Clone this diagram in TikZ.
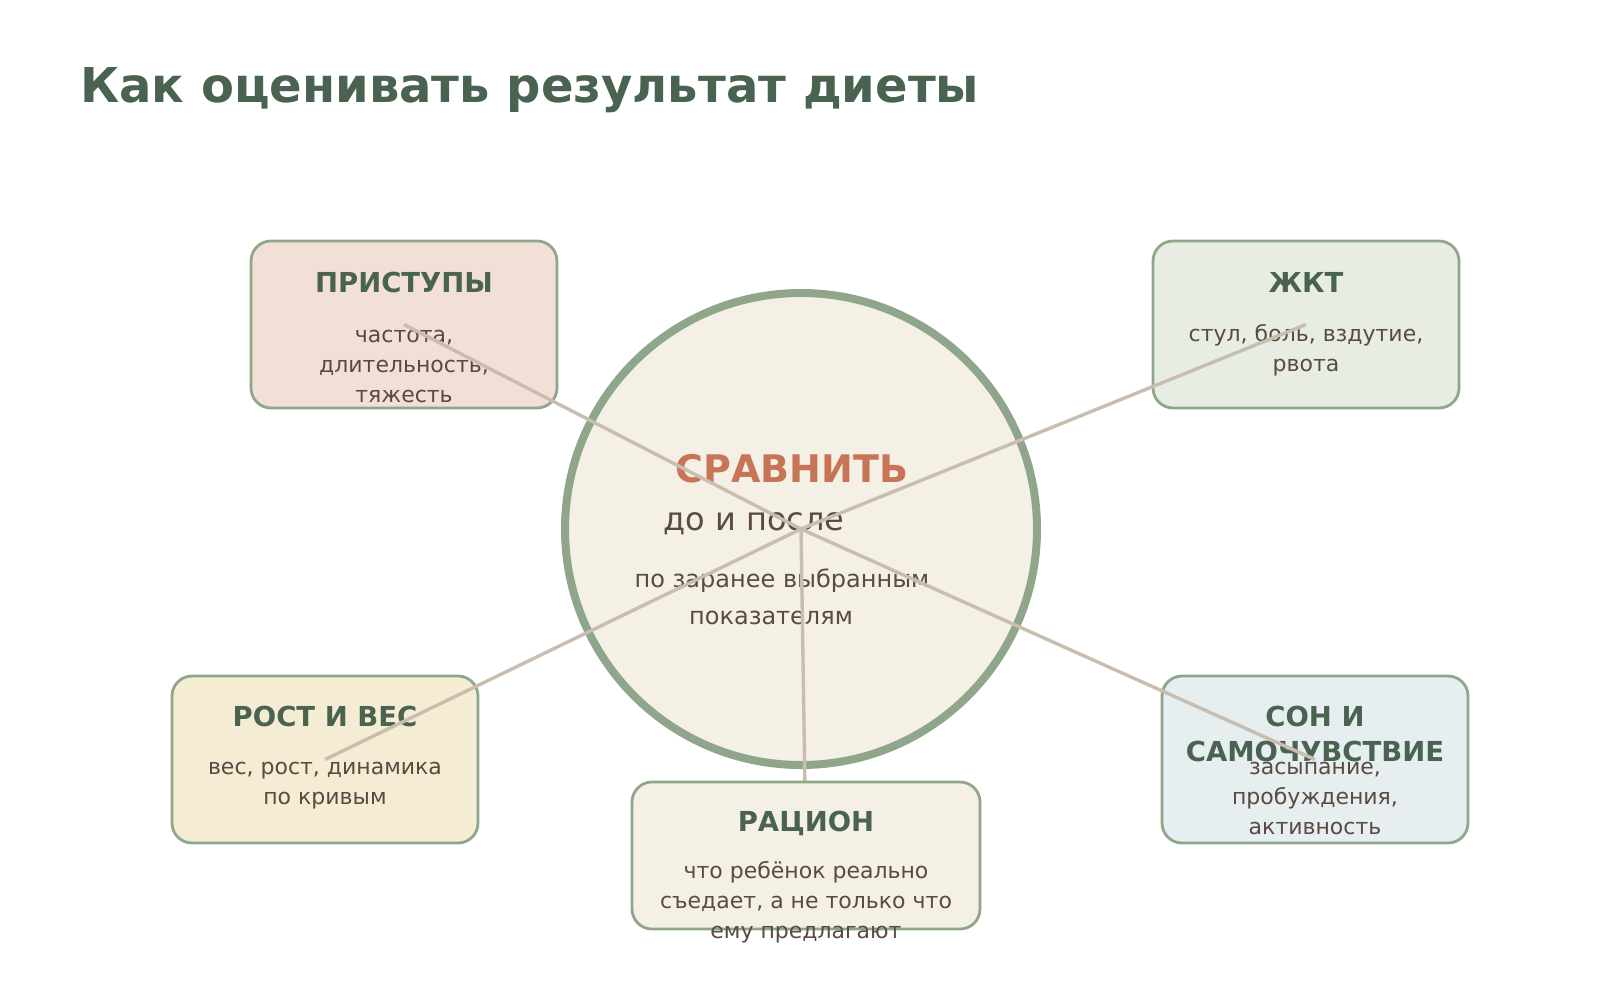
\documentclass[tikz,border=0pt]{standalone}
\usepackage{fontspec}
\setmainfont{DejaVu Sans}
\usepackage{xcolor}
\usetikzlibrary{
    positioning,
    calc
}
\definecolor{titlegreen}{HTML}{4A6350}
\definecolor{bordergreen}{HTML}{8FA68B}
\definecolor{linebeige}{HTML}{C8BDAF}
\definecolor{textbrown}{HTML}{594A42}
\definecolor{accent}{HTML}{C87557}
\definecolor{fillpink}{HTML}{F2DFD5}
\definecolor{fillmint}{HTML}{E8EDE3}
\definecolor{fillyellow}{HTML}{F5EDD3}
\definecolor{fillblue}{HTML}{E6EEF0}
\definecolor{fillcream}{HTML}{F5F0E5}
\tikzset{%
    % Specifications for style of nodes:
    base/.style = {
        rectangle, rounded corners=20pt, draw=bordergreen, line width=2.8pt,
        minimum width=306pt, minimum height=167pt, inner sep=0pt
    },
    seizure/.style = {base, fill=fillpink},
    gut/.style = {base, fill=fillmint},
    growth/.style = {base, fill=fillyellow},
    sleep/.style = {base, fill=fillblue},
    ration/.style = {base, fill=fillcream, minimum width=348pt, minimum height=147pt},
    hub/.style = {circle, draw=bordergreen, line width=8pt, fill=fillcream,
        minimum size=472pt, inner sep=0pt},
    % multi-line texts sit on the baseline of their last line
    head/.style = {anchor=base, text=titlegreen, align=center, inner sep=0pt,
        font=\fontsize{27.5}{35}\selectfont\bfseries},
    body/.style = {anchor=base, text=textbrown, align=center, inner sep=0pt,
        font=\fontsize{22}{30}\selectfont},
    link/.style = {draw=linebeige, line width=3.4pt}
}
\begin{document}
\begin{tikzpicture}[x=1pt, y=-1pt]
    \useasboundingbox (0,0) rectangle (1600,980);
    \node[anchor=base west, text=titlegreen, inner sep=0pt,
        font=\fontsize{48}{58}\selectfont\bfseries] (title) at (80,102) {Как оценивать результат диеты};
    % centre
    \node[hub] (cmp) at (801,529) {};
    \node[anchor=base, text=accent, inner sep=0pt, font=\fontsize{38}{46}\selectfont\bfseries] (cmpt) at (792,482) {СРАВНИТЬ};
    \node[anchor=base, text=textbrown, inner sep=0pt, font=\fontsize{32}{38}\selectfont] (cmpa) at (754,530) {до и после};
    \node[anchor=base, text=textbrown, inner sep=0pt, font=\fontsize{24}{38}\selectfont] (cmpb) at (782,587) {по заранее выбранным};
    \node[anchor=base, text=textbrown, inner sep=0pt, font=\fontsize{24}{38}\selectfont] (cmpc) at (771,624) {показателям};
    % boxes
    \node[seizure] (fits) at (404,324.5) {};
    \node[head] (fitsh) at (404,292) {ПРИСТУПЫ};
    \node[body] (fitsb) at (404,402) {частота,\\длительность,\\тяжесть};
    \node[gut] (gi) at (1306,324.5) {};
    \node[head] (gih) at (1306,292) {ЖКТ};
    \node[body] (gib) at (1306,371) {стул, боль, вздутие,\\рвота};
    \node[growth] (grow) at (325,759.5) {};
    \node[head] (growh) at (325,726) {РОСТ И ВЕС};
    \node[body] (growb) at (325,804) {вес, рост, динамика\\по кривым};
    \node[sleep] (sleep) at (1315,759.5) {};
    \node[head] (sleeph) at (1315,761) {СОН И\\САМОЧУВСТВИЕ};
    \node[body] (sleepb) at (1315,834) {засыпание,\\пробуждения,\\активность};
    % links
    \draw[link] (cmp.center) -- (fits.center);
    \draw[link] (cmp.center) -- (gi.center);
    \draw[link] (cmp.center) -- (grow.center);
    \draw[link] (cmp.center) -- (sleep.center);
    \draw[link] (cmp.center) -- (806,855.5) coordinate (dietc);
    \node[ration] (diet) at (dietc) {};
    \node[head] (dieth) at (806,831) {РАЦИОН};
    \node[body] (dietb) at (806,938) {что ребёнок реально\\съедает, а не только что\\ему предлагают};
\end{tikzpicture}
\end{document}
